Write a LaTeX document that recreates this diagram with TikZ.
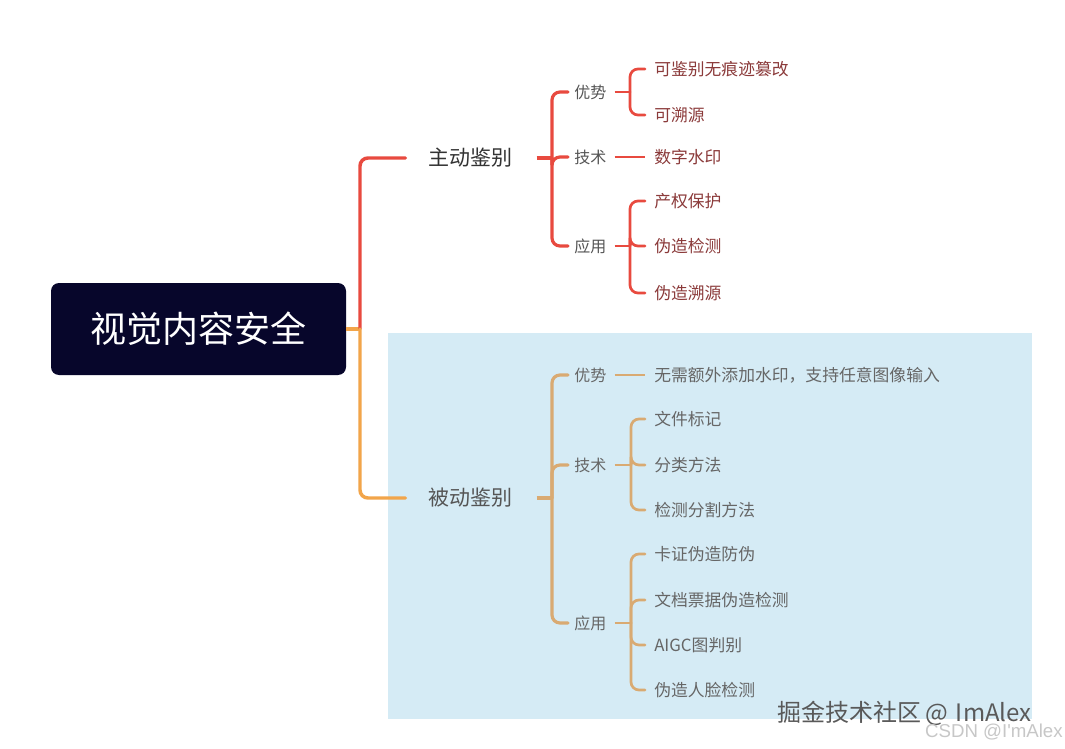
\documentclass[tikz,border=0pt]{standalone}
\usepackage{fontspec}
\newfontfamily\cjk{Noto Sans CJK SC}
\newfontfamily\arialf{Liberation Sans}
\definecolor{rootfill}{HTML}{07062B}
\definecolor{redl}{HTML}{E84A3F}
\definecolor{orl}{HTML}{F2A54A}
\definecolor{tanl}{HTML}{D9AA72}
\definecolor{bluebg}{HTML}{D5EBF5}
\definecolor{txtdark}{HTML}{333333}
\definecolor{txtgray}{HTML}{555555}
\definecolor{txtred}{HTML}{8B3A3A}
\definecolor{txtlt}{HTML}{666666}
\tikzset{
  lbl/.style={anchor=west,inner sep=0pt,font=\cjk\fontsize{12}{14}\selectfont},
  leaf/.style={anchor=west,inner sep=0pt,font=\cjk\fontsize{12.6}{14}\selectfont},
  lone/.style={anchor=west,inner sep=0pt,font=\cjk\fontsize{15.75}{18}\selectfont},
  conn/.style={rounded corners=6pt,line cap=round},
}
\begin{document}
\begin{tikzpicture}[x=0.75pt,y=-0.75pt]
\useasboundingbox (0,0) rectangle (1065,749);
\fill[white] (0,0) rectangle (1065,749);
\fill[bluebg] (388,333) rectangle (1032,719);
% root
\node[fill=rootfill,rounded corners=6pt,minimum width=221.25pt,minimum height=69pt,inner sep=0pt,
  text=white,font=\cjk\fontsize{27}{30}\selectfont] (root) at (198.5,329) {视觉内容安全};
% level 1
\node[lone,text=txtdark] (zd) at (428,158) {主动鉴别};
\node[lone,text=txtgray] (bd) at (428,498) {被动鉴别};
\coordinate (J) at (360,329);
\draw[orl,line width=2.6pt] (root.east) -- (J);
\draw[redl,line width=2.6pt,conn,shorten >=17pt] (J) |- (zd.west);
\draw[orl,line width=2.6pt,conn,shorten >=17pt] (J) |- (bd.west);
% --- active branch ---
\node[lbl,text=txtgray] (a1) at (574,92) {优势};
\node[lbl,text=txtgray] (a2) at (574,157) {技术};
\node[lbl,text=txtgray] (a3) at (574,246) {应用};
\coordinate (TA) at (552,158);
\draw[redl,line width=2.4pt,shorten <=18pt] (zd.east) -- (TA);
\draw[redl,line width=2.4pt,conn,shorten >=4.5pt] (TA) |- (a1.west);
\draw[redl,line width=2.4pt,conn,shorten >=4.5pt] (TA) |- (a2.west);
\draw[redl,line width=2.4pt,conn,shorten >=4.5pt] (TA) |- (a3.west);
\node[leaf,text=txtred] (a11) at (654,69) {可鉴别无痕迹篡改};
\node[leaf,text=txtred] (a12) at (654,115) {可溯源};
\node[leaf,text=txtred] (a21) at (654,157) {数字水印};
\node[leaf,text=txtred] (a31) at (654,201) {产权保护};
\node[leaf,text=txtred] (a32) at (654,246) {伪造检测};
\node[leaf,text=txtred] (a33) at (654,293) {伪造溯源};
\coordinate (TA1) at (630,92);
\coordinate (TA3) at (630,246);
\draw[redl,line width=2pt,shorten <=6pt] (a1.east) -- (TA1);
\draw[redl,line width=2pt,conn,shorten >=6.75pt] (TA1) |- (a11.west);
\draw[redl,line width=2pt,conn,shorten >=6.75pt] (TA1) |- (a12.west);
\draw[redl,line width=2pt,shorten <=6pt,shorten >=6.75pt] (a2.east) -- (a21.west);
\draw[redl,line width=2pt,shorten <=6pt] (a3.east) -- (TA3);
\draw[redl,line width=2pt,conn,shorten >=6.75pt] (TA3) |- (a31.west);
\draw[redl,line width=2pt,conn,shorten >=6.75pt] (TA3) |- (a32.west);
\draw[redl,line width=2pt,conn,shorten >=6.75pt] (TA3) |- (a33.west);
% --- passive branch ---
\node[lbl,text=txtlt] (b1) at (574,375) {优势};
\node[lbl,text=txtlt] (b2) at (574,465) {技术};
\node[lbl,text=txtlt] (b3) at (574,623) {应用};
\coordinate (TB) at (552,498);
\draw[tanl,line width=2.4pt,shorten <=18pt] (bd.east) -- (TB);
\draw[tanl,line width=2.4pt,conn,shorten >=4.5pt] (TB) |- (b1.west);
\draw[tanl,line width=2.4pt,conn,shorten >=4.5pt] (TB) |- (b2.west);
\draw[tanl,line width=2.4pt,conn,shorten >=4.5pt] (TB) |- (b3.west);
\node[leaf,text=txtlt] (b11) at (654,375) {无需额外添加水印，支持任意图像输入};
\node[leaf,text=txtlt] (b21) at (654,419) {文件标记};
\node[leaf,text=txtlt] (b22) at (654,465) {分类方法};
\node[leaf,text=txtlt] (b23) at (654,510) {检测分割方法};
\node[leaf,text=txtlt] (b31) at (654,554) {卡证伪造防伪};
\node[leaf,text=txtlt] (b32) at (654,600) {文档票据伪造检测};
\node[leaf,text=txtlt] (b33) at (654,645) {AIGC图判别};
\node[leaf,text=txtlt] (b34) at (654,690) {伪造人脸检测};
\coordinate (TB2) at (631,465);
\coordinate (TB3) at (631,623);
\draw[tanl,line width=2pt,shorten <=6pt,shorten >=6.75pt] (b1.east) -- (b11.west);
\draw[tanl,line width=2pt,shorten <=6pt] (b2.east) -- (TB2);
\draw[tanl,line width=2pt,conn,shorten >=6.75pt] (TB2) |- (b21.west);
\draw[tanl,line width=2pt,conn,shorten >=6.75pt] (TB2) |- (b22.west);
\draw[tanl,line width=2pt,conn,shorten >=6.75pt] (TB2) |- (b23.west);
\draw[tanl,line width=2pt,shorten <=6pt] (b3.east) -- (TB3);
\draw[tanl,line width=2pt,conn,shorten >=6.75pt] (TB3) |- (b31.west);
\draw[tanl,line width=2pt,conn,shorten >=6.75pt] (TB3) |- (b32.west);
\draw[tanl,line width=2pt,conn,shorten >=6.75pt] (TB3) |- (b33.west);
\draw[tanl,line width=2pt,conn,shorten >=6.75pt] (TB3) |- (b34.west);
% watermarks
\node[anchor=west,inner sep=0pt,text=black!65,font=\cjk\fontsize{18}{20}\selectfont] (wm1) at (777,713) {掘金技术社区\,@\,\,ImAlex};
\node[anchor=east,inner sep=0pt,text=black!22,font=\arialf\fontsize{14}{16}\selectfont] (wm2) at (1063,732) {CSDN @I'mAlex};
\end{tikzpicture}
\end{document}
